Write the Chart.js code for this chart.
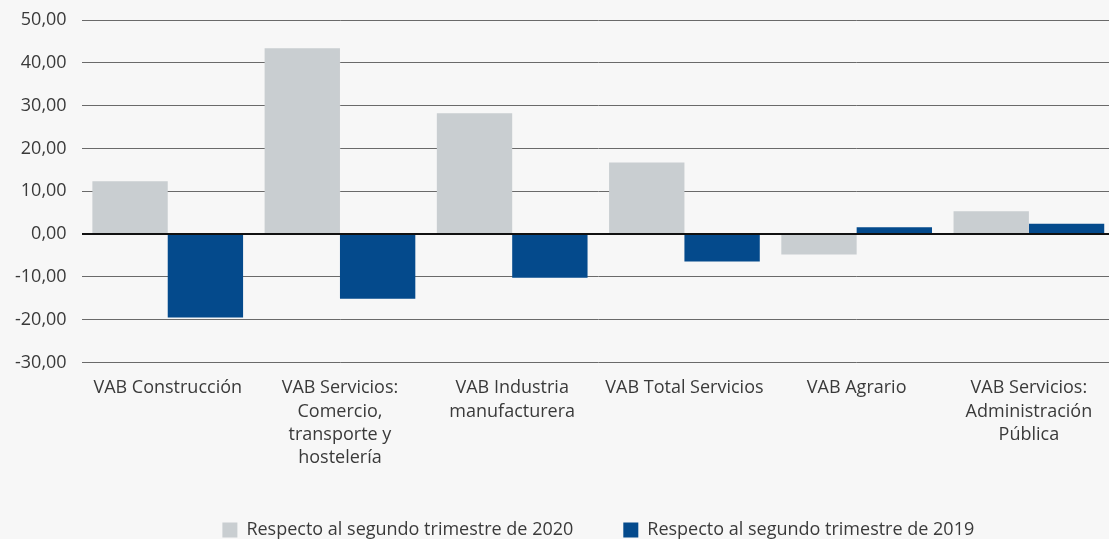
<!DOCTYPE html>
<html>
<head>
<meta charset="utf-8">
<script src="https://cdn.jsdelivr.net/npm/chart.js@4"></script>
<style>
  html, body { margin: 0; padding: 0; background: #f7f7f7; overflow: hidden; }
  #wrap { position: relative; width: 1115px; height: 539px; }
</style>
</head>
<body>
<div id="wrap"><canvas id="barChart"></canvas></div>
<script>
// Categorías (ejes en varias líneas como en el original)
const categories = [
    'VAB Construcción',
    ['VAB Servicios:', 'Comercio,', 'transporte y', 'hostelería'],
    ['VAB Industria', 'manufacturera'],
    'VAB Total Servicios',
    'VAB Agrario',
    ['VAB Servicios:', 'Administración', 'Pública']
];
const seriesNames = ['Respecto al segundo trimestre de 2020', 'Respecto al segundo trimestre de 2019'];
const vs2020 = [12.3, 43.4, 28.2, 16.7, -4.8, 5.3];
const vs2019 = [-19.5, -15.1, -10.2, -6.4, 1.6, 2.4];
const yMin = -30, yMax = 50, yStep = 10;

const font = { family: "'Open Sans', sans-serif", size: 18 };

new Chart(document.getElementById('barChart'), {
    type: 'bar',
    data: {
        labels: categories,
        datasets: [{
            label: seriesNames[0],
            data: vs2020,
            backgroundColor: '#c9ced1',
            barPercentage: 1,
            categoryPercentage: 0.875
        }, {
            label: seriesNames[1],
            data: vs2019,
            backgroundColor: '#044a8c',
            barPercentage: 1,
            categoryPercentage: 0.875
        }]
    },
    options: {
        responsive: true,
        maintainAspectRatio: false,
        animation: false,
        layout: { padding: { top: 20, bottom: -10, left: 0, right: 0 } },
        plugins: {
            legend: {
                position: 'bottom',
                fullSize: false,
                labels: {
                    boxWidth: 15,
                    boxHeight: 15,
                    padding: 50,
                    color: '#3a3a3a',
                    font: font
                }
            },
            tooltip: { enabled: false }
        },
        scales: {
            y: {
                min: yMin,
                max: yMax,
                afterFit: function(scale) { scale.paddingTop = 0; },
                ticks: {
                    stepSize: yStep,
                    color: '#3a3a3a',
                    padding: 15,
                    font: font,
                    callback: function(v) { return v.toFixed(2).replace('.', ','); }
                },
                grid: {
                    drawTicks: false,
                    color: ctx => ctx.tick && ctx.tick.value === 0 ? '#111' : '#6a6a6a',
                    lineWidth: ctx => ctx.tick && ctx.tick.value === 0 ? 2 : 1
                },
                border: { display: false }
            },
            x: {
                grid: { display: false },
                border: { display: false },
                afterFit: function(scale) { scale.height -= 5; },
                ticks: {
                    color: '#3a3a3a',
                    padding: 6,
                    maxRotation: 0,
                    autoSkip: false,
                    font: Object.assign({ lineHeight: 1.3 }, font)
                }
            }
        }
    }
});
</script>
</body>
</html>
